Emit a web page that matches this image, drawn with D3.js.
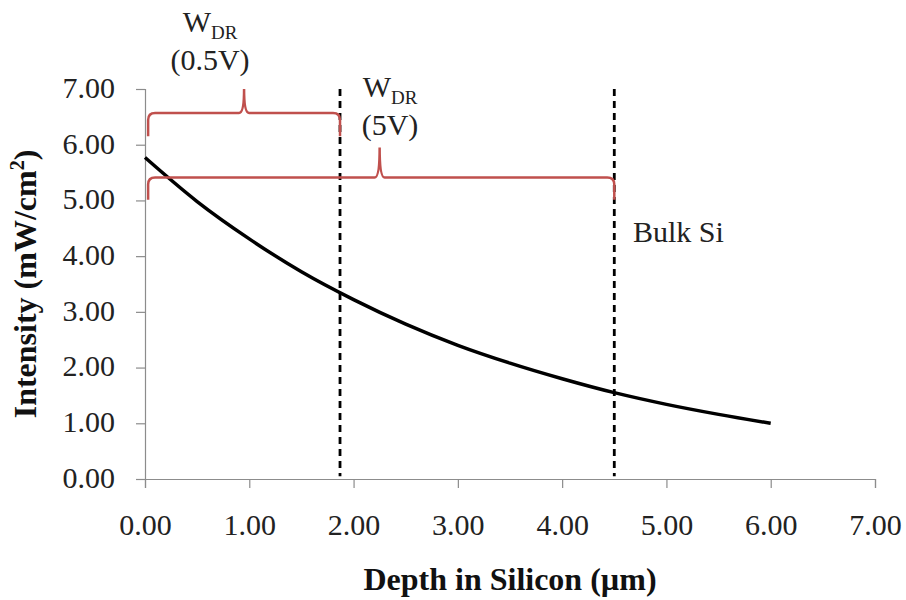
<!DOCTYPE html>
<html>
<head>
<meta charset="utf-8">
<script src="https://cdn.jsdelivr.net/npm/d3@7"></script>
<style>
  body { margin: 0; background: #fff; }
</style>
</head>
<body>
<script>
// depth (µm) and intensity (mW/cm2)
const depth = [0, 0.5, 1, 1.5, 2, 2.5, 3, 3.5, 4, 4.5, 5, 5.5, 6];
const intensity = [5.77, 4.98, 4.31, 3.72, 3.22, 2.78, 2.40, 2.08, 1.80, 1.55, 1.34, 1.16, 1.00];

const xTicks = [0, 1, 2, 3, 4, 5, 6, 7];
const yTicks = [0, 1, 2, 3, 4, 5, 6, 7];

// depletion region edges (dashed lines)
const edges = [1.87, 4.5];

// braces: [start, end, tip x, line y, end y, tip y]
const braces = [
  [0.03, 1.87, 0.95, 6.57, 6.15, 7.0],
  [0.03, 4.5, 2.25, 5.41, 5.01, 5.95]
];

const width = 906;
const height = 600;
const margin = { left: 145, right: 31, top: 89, bottom: 121 };
const serif = "Liberation Serif";

const svg = d3.select("body").append("svg")
  .attr("width", width).attr("height", height);

const x = d3.scaleLinear().domain([0, 7]).range([margin.left, width - margin.right]);
const y = d3.scaleLinear().domain([0, 7]).range([height - margin.bottom, margin.top]);

/** axes */
const axisx = d3.axisBottom(x).tickValues(xTicks).tickSize(9).tickFormat(d3.format(".2f"));
const axisy = d3.axisLeft(y).tickValues(yTicks).tickSize(9).tickFormat(d3.format(".2f"));

const gx = svg.append("g")
  .attr("transform", "translate(0," + y(0) + ")")
  .call(axisx);
gx.selectAll("text").attr("y", 35).attr("dy", "0.71em");

const gy = svg.append("g")
  .attr("transform", "translate(" + x(0) + ",0)")
  .call(axisy);
gy.selectAll("text").attr("x", -30).attr("dy", "0.28em");

svg.selectAll("g").attr("font-family", null).attr("font-size", null);
svg.selectAll(".tick text")
  .style("font-family", serif)
  .style("font-size", "30px")
  .attr("fill", "#222");

svg.selectAll(".domain, .tick line").attr("stroke", "#8c8c8c").attr("stroke-width", 1.2);

/** axis titles */
svg.append("text")
  .attr("x", (x(0) + x(7)) / 2).attr("y", 590)
  .attr("text-anchor", "middle")
  .attr("fill", "#111")
  .style("font-family", serif)
  .style("font-size", "32px").style("font-weight", "bold")
  .text("Depth in Silicon (µm)");

const yt = svg.append("text")
  .attr("transform", "translate(36," + (y(0) + y(7)) / 2 + ") rotate(-90)")
  .attr("text-anchor", "middle")
  .attr("fill", "#111")
  .style("font-family", serif)
  .style("font-size", "32px").style("font-weight", "bold");
yt.append("tspan").text("Intensity (mW/cm");
yt.append("tspan").attr("dy", -12).style("font-size", "20px").text("2");
yt.append("tspan").attr("dy", 12).text(")");

/** dashed lines */
svg.selectAll(".edge")
  .data(edges)
  .enter()
  .append("line")
  .attr("class", "edge")
  .attr("x1", d => x(d)).attr("x2", d => x(d))
  .attr("y1", y(7)).attr("y2", y(0.05))
  .attr("stroke", "#000").attr("stroke-width", 2.8)
  .attr("stroke-dasharray", "7,5");

/** curve */
const line = d3.line()
  .x((d, i) => x(depth[i]))
  .y(d => y(d))
  .curve(d3.curveMonotoneX);

svg.append("path")
  .datum(intensity)
  .attr("fill", "none")
  .attr("stroke", "#000")
  .attr("stroke-width", 3.5)
  .attr("d", line);

/** braces */
function bracePath(b) {
  const x0 = x(b[0]), x1 = x(b[1]), xm = x(b[2]);
  const yl = y(b[3]), ye = y(b[4]), yt = y(b[5]);
  const r = 7;
  return "M" + x0 + "," + ye +
    "V" + (yl + r) + "Q" + x0 + "," + yl + " " + (x0 + r) + "," + yl +
    "H" + (xm - 5) + "Q" + xm + "," + yl + " " + xm + "," + yt +
    "Q" + xm + "," + yl + " " + (xm + 5) + "," + yl +
    "H" + (x1 - r) + "Q" + x1 + "," + yl + " " + x1 + "," + (yl + r) +
    "V" + ye;
}

svg.selectAll(".brace")
  .data(braces)
  .enter()
  .append("path")
  .attr("class", "brace")
  .attr("d", bracePath)
  .attr("fill", "none")
  .attr("stroke", "#c0504d")
  .attr("stroke-width", 2.5);

/** annotation labels */
function wdr(cx, by, sub) {
  const t = svg.append("text")
    .attr("x", cx).attr("y", by)
    .attr("text-anchor", "middle")
    .attr("fill", "#222")
    .style("font-family", serif)
    .style("font-size", "30px");
  t.append("tspan").text("W");
  t.append("tspan").attr("dy", 7).style("font-size", "19px").text("DR");
  svg.append("text")
    .attr("x", cx).attr("y", by + 38)
    .attr("text-anchor", "middle")
    .attr("fill", "#222")
    .style("font-family", serif)
    .style("font-size", "30px")
    .text(sub);
}
wdr(210, 32, "(0.5V)");
wdr(390, 97, "(5V)");

svg.append("text")
  .attr("x", 633).attr("y", 242)
  .attr("fill", "#222")
  .style("font-family", serif)
  .style("font-size", "30px")
  .text("Bulk Si");
</script>
</body>
</html>
